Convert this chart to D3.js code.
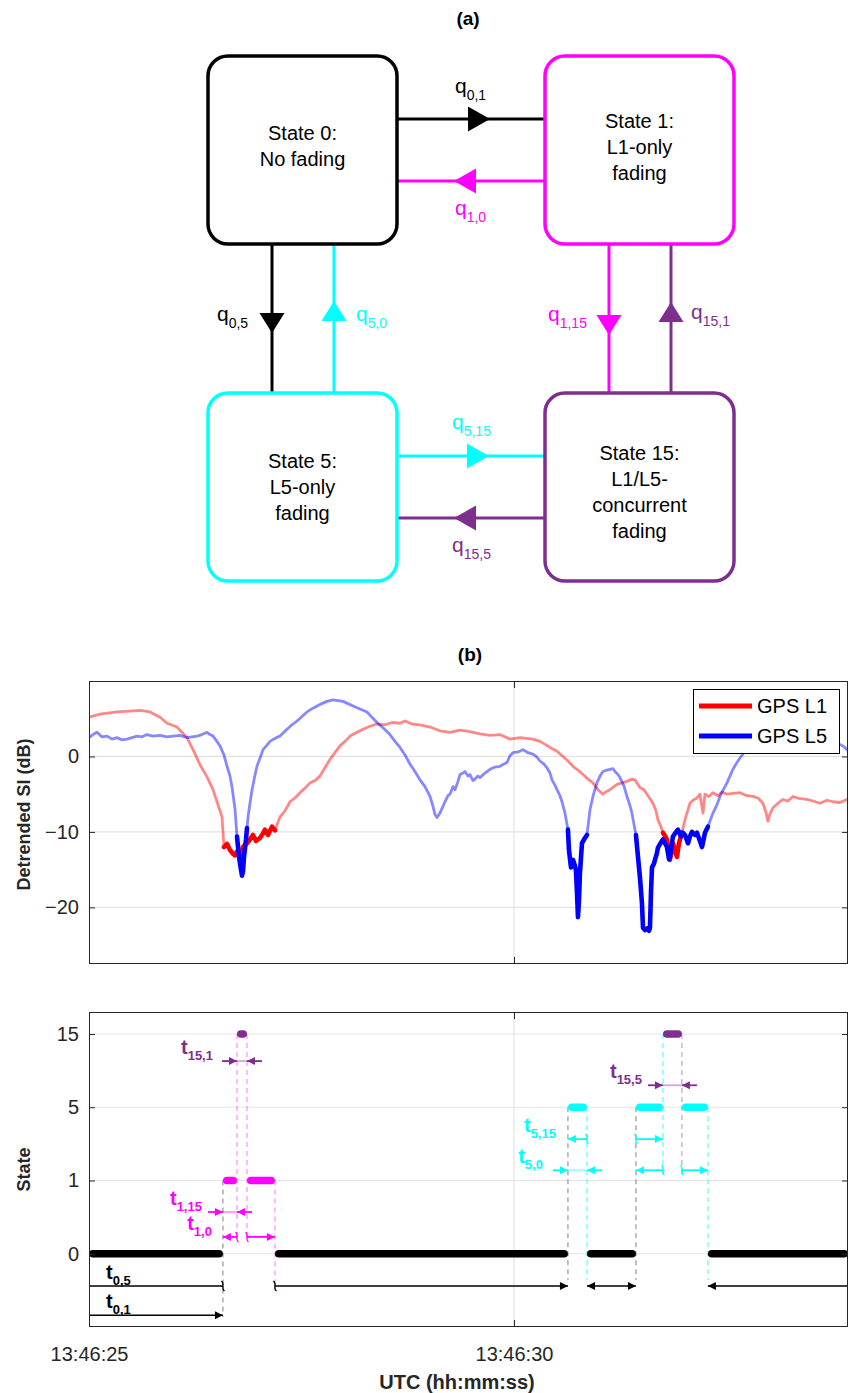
<!DOCTYPE html>
<html><head><meta charset="utf-8">
<script src="https://cdn.jsdelivr.net/npm/d3@7"></script>
<style>
html,body{margin:0;padding:0;background:#fff;}
svg{display:block;}
text{font-family:Arial,"Liberation Sans",Helvetica,sans-serif;}
</style></head><body>
<svg id="fig" width="849" height="1393"></svg>
<script>
// ================= DATA =================
// time in seconds after 13:46:25, detrended SI in dB
const l1Time = [0.000,0.129,0.329,0.482,0.600,0.718,0.835,0.918,1.035,1.153,1.224,1.306,1.388,1.459,1.518,1.565,1.588,1.624,1.659,1.694,1.718,1.741,1.776,1.812,1.859,1.894,1.929,1.965,2.012,2.047,2.071,2.106,2.153,2.188,2.247,2.306,2.365,2.424,2.482,2.541,2.600,2.659,2.718,2.776,2.835,2.894,2.953,3.012,3.071,3.153,3.224,3.306,3.388,3.482,3.565,3.659,3.718,3.800,3.894,4.012,4.129,4.247,4.365,4.482,4.600,4.718,4.835,4.953,5.071,5.224,5.306,5.424,5.506,5.576,5.635,5.694,5.753,5.812,5.871,5.929,5.988,6.047,6.094,6.129,6.212,6.271,6.329,6.388,6.424,6.482,6.529,6.565,6.600,6.635,6.671,6.694,6.729,6.753,6.776,6.800,6.835,6.859,6.871,6.894,6.918,6.941,6.976,7.012,7.035,7.071,7.106,7.153,7.188,7.224,7.247,7.294,7.341,7.400,7.447,7.506,7.576,7.659,7.741,7.812,7.871,7.929,7.965,7.988,8.012,8.047,8.106,8.165,8.224,8.282,8.365,8.447,8.518,8.600,8.682,8.753,8.835,8.918,8.941];
const l1Value = [5.2,5.6,5.9,6.0,6.1,5.9,5.2,4.4,3.9,2.5,0.9,-1.1,-2.7,-4.4,-6.4,-8.0,-12.0,-11.6,-12.4,-12.9,-13.1,-12.6,-13.3,-12.0,-11.5,-11.0,-10.4,-11.2,-10.8,-10.2,-9.7,-10.4,-9.3,-9.8,-8.0,-7.2,-6.0,-5.5,-4.8,-4.2,-3.5,-3.2,-2.6,-1.5,-0.4,0.5,1.4,2.0,2.7,3.2,3.6,4.0,4.3,4.2,4.5,4.4,4.7,4.3,4.2,3.9,3.4,3.2,3.5,3.3,3.0,2.8,2.9,2.3,2.5,2.3,2.0,1.2,0.7,0.0,-0.6,-1.3,-1.8,-2.4,-3.0,-3.5,-4.4,-5.0,-4.6,-4.4,-3.7,-3.5,-3.3,-3.0,-3.1,-4.1,-4.4,-5.0,-5.6,-6.2,-7.2,-8.4,-9.3,-10.1,-10.5,-11.0,-13.7,-12.4,-11.5,-12.5,-13.3,-11.5,-10.1,-8.4,-7.5,-6.2,-5.8,-5.5,-5.0,-7.5,-5.0,-5.3,-4.8,-5.2,-4.7,-5.0,-4.9,-4.8,-5.2,-5.3,-5.5,-6.2,-7.4,-8.6,-7.6,-6.8,-6.2,-5.7,-5.9,-5.3,-5.6,-5.7,-5.9,-6.2,-5.8,-6.0,-6.1,-5.7,-5.8];

const l5Time = [0.000,0.047,0.094,0.153,0.212,0.271,0.329,0.388,0.447,0.506,0.565,0.624,0.682,0.753,0.835,0.918,0.988,1.071,1.153,1.212,1.271,1.329,1.388,1.424,1.459,1.506,1.541,1.588,1.624,1.659,1.682,1.718,1.741,1.765,1.788,1.800,1.812,1.824,1.847,1.859,1.871,1.894,1.918,1.953,1.976,2.012,2.047,2.094,2.129,2.188,2.247,2.294,2.329,2.388,2.447,2.506,2.565,2.635,2.718,2.800,2.871,2.929,2.988,3.047,3.106,3.188,3.271,3.329,3.388,3.459,3.541,3.600,3.659,3.718,3.776,3.835,3.894,3.953,4.012,4.047,4.071,4.094,4.129,4.165,4.188,4.224,4.247,4.282,4.306,4.341,4.365,4.400,4.424,4.459,4.482,4.518,4.541,4.576,4.600,4.659,4.718,4.776,4.835,4.882,4.918,4.953,4.988,5.047,5.106,5.165,5.224,5.271,5.306,5.353,5.388,5.424,5.447,5.482,5.506,5.541,5.565,5.600,5.624,5.635,5.647,5.671,5.694,5.718,5.729,5.741,5.753,5.765,5.776,5.800,5.835,5.859,5.894,5.929,5.976,6.012,6.047,6.094,6.129,6.165,6.188,6.224,6.247,6.294,6.329,6.365,6.388,6.412,6.435,6.459,6.482,6.506,6.518,6.541,6.565,6.588,6.600,6.612,6.624,6.647,6.659,6.682,6.694,6.718,6.753,6.776,6.800,6.824,6.835,6.859,6.871,6.906,6.929,6.965,6.988,7.012,7.047,7.071,7.094,7.129,7.153,7.188,7.212,7.235,7.247,7.282,7.341,7.388,7.424,7.459,7.506,7.541,7.576,7.624,7.659,7.706,7.741,7.894,8.129,8.365,8.600,8.776,8.835,8.882,8.918,8.941];
const l5Value = [2.5,2.9,3.2,2.6,2.7,2.3,2.5,2.2,2.3,2.5,2.7,2.6,2.9,2.7,2.8,2.6,2.7,2.8,2.5,2.6,2.7,2.9,3.2,2.9,2.7,2.0,1.4,0.2,-1.3,-2.6,-4.0,-7.0,-10.6,-13.3,-15.0,-15.8,-15.2,-13.3,-11.0,-9.5,-8.0,-6.2,-4.4,-2.5,-1.3,-0.2,0.9,1.5,2.0,2.4,2.7,3.2,3.6,4.2,4.7,5.3,5.9,6.4,6.9,7.3,7.5,7.4,7.3,7.0,6.7,6.3,5.9,5.2,4.5,3.8,2.9,2.0,1.2,0.2,-1.0,-2.0,-3.1,-4.0,-5.3,-6.6,-7.7,-8.1,-7.5,-6.6,-6.0,-5.2,-5.0,-4.0,-4.4,-3.3,-2.4,-2.2,-2.0,-2.6,-2.4,-3.2,-3.0,-2.6,-2.8,-2.2,-1.7,-1.4,-1.3,-1.0,-0.8,0.1,0.5,0.6,0.9,0.5,0.3,-0.1,-0.6,-1.0,-1.5,-2.2,-3.1,-3.8,-4.4,-5.2,-6.0,-7.5,-9.0,-9.7,-12.4,-14.7,-13.7,-14.5,-15.1,-18.0,-21.3,-19.0,-15.5,-11.5,-10.8,-10.4,-7.1,-5.3,-3.5,-2.6,-2.0,-1.8,-1.7,-1.6,-2.0,-2.4,-2.8,-3.9,-5.3,-6.5,-7.5,-9.0,-10.4,-13.3,-16.0,-19.5,-22.7,-23.0,-22.8,-23.1,-22.7,-18.0,-14.7,-14.2,-13.7,-12.8,-12.1,-11.6,-11.0,-11.5,-12.0,-13.6,-13.3,-11.4,-10.6,-10.0,-9.7,-10.6,-10.1,-10.4,-11.5,-10.6,-10.0,-10.4,-10.1,-11.2,-12.0,-10.8,-10.1,-9.3,-7.5,-6.4,-5.3,-4.5,-3.5,-2.6,-1.7,-0.8,-0.2,0.5,0.9,2.5,3.5,3.0,2.2,1.6,1.6,1.3,0.9,0.8];

// state sequence
const stateStart = [0,1.576,1.741,1.859,2.188,5.635,5.859,6.435,6.753,6.976,7.282];
const stateEnd   = [1.576,1.741,1.859,2.188,5.635,5.859,6.435,6.753,6.976,7.282,8.93];
const stateValue = [0,1,15,1,0,5,0,5,15,5,0];
const stateLevels = [0,1,5,15];
const siTicks = [-20,-10,0];
const timeTicks = [0,5];
const timeTickLabels = ["13:46:25","13:46:30"];
const seriesNames = ["GPS L1","GPS L5"];

// ================= STYLE =================
const COL = {0:"#000000",1:"#FF00FF",5:"#00FFFF",15:"#7E2F8E"};
const RED="#FF0000", BLUE="#0000FF", AX="#262626", GRID="#e3e3e3";
const TICKFS = 20;

const svg = d3.select("#fig");

// ================= PANEL (a) =================
const ga = svg.append("g");
ga.append("text").attr("x",468).attr("y",25).attr("text-anchor","middle")
  .attr("font-size",19).attr("font-weight","bold").text("(a)");

const boxW=189, boxH=188, colX=[208,545], rowY=[56,393];
const boxes = [
  {s:0,c:0,r:0,lines:["State 0:","No fading"],base:140},
  {s:1,c:1,r:0,lines:["State 1:","L1-only","fading"],base:128},
  {s:5,c:0,r:1,lines:["State 5:","L5-only","fading"],base:468},
  {s:15,c:1,r:1,lines:["State 15:","L1/L5-","concurrent","fading"],base:460}
];
function tri(g,x,y,dir,len,half,color){
  let p;
  if(dir==="r") p=[[x,y],[x-len,y-half],[x-len,y+half]];
  if(dir==="l") p=[[x,y],[x+len,y-half],[x+len,y+half]];
  if(dir==="d") p=[[x,y],[x-half,y-len],[x+half,y-len]];
  if(dir==="u") p=[[x,y],[x-half,y+len],[x+half,y+len]];
  g.append("path").attr("d","M"+p.join("L")+"Z").attr("fill",color);
}
function qlabel(g,x,y,sub,color){
  const t=g.append("text").attr("x",x).attr("y",y).attr("fill",color);
  t.append("tspan").attr("font-size",21).text("q");
  t.append("tspan").attr("font-size",14).attr("dy",7).text(sub);
}
const edges = [
  {o:"h",pos:119,tip:490,dir:"r",col:COL[0],sub:"0,1",lx:455,ly:93},
  {o:"h",pos:181,tip:454,dir:"l",col:COL[1],sub:"1,0",lx:455,ly:215},
  {o:"h",pos:456,tip:489,dir:"r",col:COL[5],sub:"5,15",lx:452,ly:429},
  {o:"h",pos:518,tip:454,dir:"l",col:COL[15],sub:"15,5",lx:452,ly:552},
  {o:"v",pos:272,tip:333,dir:"d",col:COL[0],sub:"0,5",lx:217,ly:321},
  {o:"v",pos:334,tip:301,dir:"u",col:COL[5],sub:"5,0",lx:356,ly:321},
  {o:"v",pos:609,tip:335,dir:"d",col:COL[1],sub:"1,15",lx:548,ly:321},
  {o:"v",pos:671,tip:302,dir:"u",col:COL[15],sub:"15,1",lx:691,ly:319}
];
edges.forEach(e=>{
  if(e.o==="h"){
    ga.append("line").attr("x1",colX[0]+boxW).attr("x2",colX[1]).attr("y1",e.pos).attr("y2",e.pos)
      .attr("stroke",e.col).attr("stroke-width",3);
    tri(ga,e.tip,e.pos,e.dir,22,12.5,e.col);
  } else {
    ga.append("line").attr("x1",e.pos).attr("x2",e.pos).attr("y1",rowY[0]+boxH).attr("y2",rowY[1])
      .attr("stroke",e.col).attr("stroke-width",3);
    tri(ga,e.pos,e.tip,e.dir,20,12.5,e.col);
  }
  qlabel(ga,e.lx,e.ly,e.sub,e.col);
});
boxes.forEach(b=>{
  ga.append("rect").attr("x",colX[b.c]).attr("y",rowY[b.r]).attr("width",boxW).attr("height",boxH)
    .attr("rx",20).attr("ry",20).attr("fill","#fff").attr("stroke",COL[b.s]).attr("stroke-width",3.5);
  b.lines.forEach((l,i)=>{
    ga.append("text").attr("x",colX[b.c]+boxW/2).attr("y",b.base+26*i).attr("text-anchor","middle")
      .attr("font-size",20).attr("fill","#000").text(l);
  });
});

// ================= PANEL (b) =================
svg.append("text").attr("x",470).attr("y",661).attr("text-anchor","middle")
  .attr("font-size",19).attr("font-weight","bold").text("(b)");

const L=89, R=848;
const x = d3.scaleLinear().domain([0,8.93]).range([L,R]);
const T1=681, B1=964, T2=1012, B2=1327;
const ySI = d3.scaleLinear().domain([-27.5,10]).range([B1,T1]);
const yS = d3.scaleLinear().domain([-1,3.3]).range([B2,T2]);
const lvl = s => yS(stateLevels.indexOf(s));

const defs = svg.append("defs");
defs.append("clipPath").attr("id","c1").append("rect").attr("x",L).attr("y",T1).attr("width",R-L).attr("height",B1-T1);
defs.append("clipPath").attr("id","c2").append("rect").attr("x",L).attr("y",T2).attr("width",R-L+1).attr("height",B2-T2);

function frame(top,bot){
  const g=svg.append("g");
  g.append("rect").attr("x",L+0.5).attr("y",top+0.5).attr("width",R-L-1).attr("height",bot-top-1)
    .attr("fill","none").attr("stroke",AX).attr("stroke-width",1);
  return g;
}

// ---- top panel grid
const g1 = svg.append("g");
g1.selectAll(".hg").data(siTicks).join("line").attr("x1",L).attr("x2",R)
  .attr("y1",d=>ySI(d)).attr("y2",d=>ySI(d)).attr("stroke",GRID).attr("stroke-width",1.2);
g1.selectAll(".vg").data(timeTicks.slice(1)).join("line").attr("x1",d=>x(d)).attr("x2",d=>x(d))
  .attr("y1",T1).attr("y2",B1).attr("stroke",GRID).attr("stroke-width",1.2);

// ---- lines
const mkData=(t,v)=>t.map((d,i)=>({t:d,v:v[i]}));
const l1 = mkData(l1Time,l1Value), l5 = mkData(l5Time,l5Value);
const line = d3.line().x(d=>x(d.t)).y(d=>ySI(d.v)).curve(d3.curveLinear);
function intervals(set){
  const out=[];
  stateValue.forEach((s,i)=>{
    if(set.includes(s)){
      const last=out[out.length-1];
      if(last && Math.abs(last[1]-stateStart[i])<1e-6) last[1]=stateEnd[i];
      else out.push([stateStart[i],stateEnd[i]]);
    }
  });
  return out;
}
const lp = svg.append("g").attr("clip-path","url(#c1)");
lp.append("path").attr("d",line(l1)).attr("fill","none").attr("stroke",RED).attr("stroke-opacity",0.47)
  .attr("stroke-width",2.8).attr("stroke-linejoin","round");
lp.append("path").attr("d",line(l5)).attr("fill","none").attr("stroke",BLUE).attr("stroke-opacity",0.47)
  .attr("stroke-width",2.8).attr("stroke-linejoin","round");
intervals([1,15]).forEach(iv=>{
  const pts=l1.filter(d=>d.t>=iv[0]-0.001 && d.t<=iv[1]+0.001);
  lp.append("path").attr("d",line(pts)).attr("fill","none").attr("stroke",RED).attr("stroke-width",4.6)
    .attr("stroke-linejoin","round").attr("stroke-linecap","round");
});
intervals([5,15]).forEach(iv=>{
  const pts=l5.filter(d=>d.t>=iv[0]-0.001 && d.t<=iv[1]+0.001);
  lp.append("path").attr("d",line(pts)).attr("fill","none").attr("stroke",BLUE).attr("stroke-width",4.6)
    .attr("stroke-linejoin","round").attr("stroke-linecap","round");
});

// ---- top axes
frame(T1,B1);
const ay1 = svg.append("g").attr("transform",`translate(${L},0)`)
  .call(d3.axisLeft(ySI).tickValues(siTicks).tickSize(-6).tickPadding(10));
ay1.select(".domain").remove();
const ay1r = svg.append("g").attr("transform",`translate(${R},0)`)
  .call(d3.axisRight(ySI).tickValues(siTicks).tickSize(-6).tickFormat(""));
ay1r.select(".domain").remove();
const ax1 = svg.append("g").attr("transform",`translate(0,${B1})`)
  .call(d3.axisBottom(x).tickValues(timeTicks).tickSize(-7).tickFormat(""));
ax1.select(".domain").remove();
const ax1t = svg.append("g").attr("transform",`translate(0,${T1})`)
  .call(d3.axisTop(x).tickValues(timeTicks).tickSize(-7).tickFormat(""));
ax1t.select(".domain").remove();
svg.append("text").attr("transform",`translate(30,${(T1+B1)/2-8}) rotate(-90)`).attr("text-anchor","middle")
  .attr("font-size",18).attr("font-weight","bold").attr("fill",AX).text("Detrended SI (dB)");

// ---- legend
const lg = svg.append("g");
lg.append("rect").attr("x",693.5).attr("y",689.5).attr("width",146).attr("height",64)
  .attr("fill","#fff").attr("stroke","#000").attr("stroke-width",1);
[[RED,706],[BLUE,736]].forEach((c,i)=>{
  lg.append("line").attr("x1",699).attr("x2",752).attr("y1",c[1]).attr("y2",c[1]).attr("stroke",c[0]).attr("stroke-width",5);
  lg.append("text").attr("x",757).attr("y",c[1]+7).attr("font-size",20).attr("fill","#000").text(seriesNames[i]);
});

// ---- bottom panel grid
const g2 = svg.append("g");
g2.selectAll(".hg").data(stateLevels).join("line").attr("x1",L).attr("x2",R)
  .attr("y1",d=>lvl(d)).attr("y2",d=>lvl(d)).attr("stroke",GRID).attr("stroke-width",1.2);
g2.selectAll(".vg").data(timeTicks.slice(1)).join("line").attr("x1",d=>x(d)).attr("x2",d=>x(d))
  .attr("y1",T2).attr("y2",B2).attr("stroke",GRID).attr("stroke-width",1.2);

const bp = svg.append("g").attr("clip-path","url(#c2)");

// dashed transition guides
const guides = [
  {t:1.576,a:1,b:-0.865,c:"#808080",o:1},
  {t:1.741,a:3,b:0.19,c:COL[1],o:0.55},
  {t:1.859,a:3,b:0.19,c:COL[1],o:0.55},
  {t:2.188,a:1,b:-0.5,c:COL[1],o:0.55},
  {t:5.635,a:2,b:-0.36,c:"#808080",o:1},
  {t:5.859,a:2,b:-0.36,c:COL[5],o:0.8},
  {t:6.435,a:2,b:-0.36,c:"#808080",o:1},
  {t:6.753,a:3,b:1.07,c:COL[5],o:0.8},
  {t:6.976,a:3,b:1.07,c:COL[15],o:0.55},
  {t:7.282,a:2,b:-0.36,c:COL[5],o:0.8}
];
guides.forEach(d=>{
  bp.append("line").attr("x1",x(d.t)).attr("x2",x(d.t)).attr("y1",yS(d.a)).attr("y2",yS(d.b))
    .attr("stroke",d.c).attr("stroke-opacity",d.o).attr("stroke-width",1).attr("stroke-dasharray","5,4");
});

// state bars
const capR = 3.8;
stateValue.forEach((s,i)=>{
  const x0=x(stateStart[i])+capR, x1=Math.max(x(stateEnd[i])-capR, x0+0.5);
  bp.append("line").attr("x1",x0).attr("x2",x1).attr("y1",lvl(s)).attr("y2",lvl(s))
    .attr("stroke",COL[s]).attr("stroke-width",7.6).attr("stroke-linecap","round");
});

// annotation helpers
function head(g,xt,y,dir,c){ tri(g,xt,y,dir,8,4,c); }
function squig(g,xp,y,c){
  g.append("path").attr("d",`M${xp-1.5},${y-5} C${xp+2.5},${y-2} ${xp-2.5},${y+2} ${xp+1.5},${y+5}`)
    .attr("fill","none").attr("stroke",c).attr("stroke-width",1.3);
}
function seg(g,a,b,y,c,left,right,w){
  const xa=x(a), xb=x(b);
  g.append("line").attr("x1",xa).attr("x2",xb).attr("y1",y).attr("y2",y).attr("stroke",c).attr("stroke-width",w);
  if(left==="tip") head(g,xa,y,"l",c);
  if(left==="sq") squig(g,xa,y,c);
  if(right==="tip") head(g,xb,y,"r",c);
  if(right==="sq") squig(g,xb,y,c);
}
function inward(g,a,b,y,c,w){
  const xa=x(a), xb=x(b);
  g.append("line").attr("x1",xa-15).attr("x2",xa).attr("y1",y).attr("y2",y).attr("stroke",c).attr("stroke-width",w);
  g.append("line").attr("x1",xb).attr("x2",xb+15).attr("y1",y).attr("y2",y).attr("stroke",c).attr("stroke-width",w);
  g.append("line").attr("x1",xa).attr("x2",xb).attr("y1",y).attr("y2",y).attr("stroke",c).attr("stroke-opacity",0.4).attr("stroke-width",w);
  head(g,xa,y,"r",c); head(g,xb,y,"l",c);
}
function tlabel(g,xp,y,sub,c,anchor){
  const t=g.append("text").attr("x",xp).attr("y",y).attr("fill",c).attr("font-weight","bold")
    .attr("text-anchor",anchor||"end");
  t.append("tspan").attr("font-size",20).text("t");
  t.append("tspan").attr("font-size",13).attr("dy",6).text(sub);
}

const an = svg.append("g").attr("clip-path","url(#c2)");
const annRows = [
  {sub:"15,1",c:COL[15],u:2.63,lab:[1.741,-24],items:[{k:"in",a:1.741,b:1.859}]},
  {sub:"1,15",c:COL[1],u:0.57,lab:[1.576,-21],items:[{k:"in",a:1.576,b:1.741}]},
  {sub:"1,0",c:COL[1],u:0.23,lab:[1.576,-11],items:[{k:"s",a:1.576,b:1.741,l:"tip",r:"sq"},{k:"s",a:1.859,b:2.188,l:"sq",r:"tip"}]},
  {sub:"0,5",c:COL[0],u:-0.44,lab:[0,17,"start"],items:[{k:"s",a:0,b:1.576,l:"",r:"sq"},{k:"s",a:2.188,b:5.635,l:"sq",r:"tip"},{k:"s",a:5.859,b:6.435,l:"tip",r:"tip"},{k:"s",a:7.282,b:8.93,l:"tip",r:""}]},
  {sub:"0,1",c:COL[0],u:-0.84,lab:[0,17,"start"],items:[{k:"s",a:0,b:1.576,l:"",r:"tip"}]},
  {sub:"5,15",c:COL[5],u:1.565,lab:[5.635,-12],items:[{k:"s",a:5.635,b:5.859,l:"tip",r:"sq"},{k:"s",a:6.435,b:6.753,l:"sq",r:"tip"}]},
  {sub:"5,0",c:COL[5],u:1.14,lab:[5.635,-25],items:[{k:"in",a:5.635,b:5.859},{k:"s",a:6.435,b:6.753,l:"tip",r:"sq"},{k:"s",a:6.976,b:7.282,l:"sq",r:"tip"}]},
  {sub:"15,5",c:COL[15],u:2.30,lab:[6.753,-21],items:[{k:"in",a:6.753,b:6.976}]}
];
annRows.forEach(r=>{
  const y=yS(r.u);
  const w = r.c===COL[0]?1.6:1.8;
  r.items.forEach(it=>{
    if(it.k==="in") inward(an,it.a,it.b,y,r.c,w);
    else seg(an,it.a,it.b,y,r.c,it.l,it.r,w);
  });
  tlabel(svg,x(r.lab[0])+r.lab[1], y-7, r.sub, r.c, r.lab[2]);
});

// ---- bottom axes
frame(T2,B2);
const ay2 = svg.append("g").attr("transform",`translate(${L},0)`)
  .call(d3.axisLeft(yS).tickValues([0,1,2,3]).tickFormat(i=>stateLevels[i]).tickSize(-6).tickPadding(10));
ay2.select(".domain").remove();
const ay2r = svg.append("g").attr("transform",`translate(${R},0)`)
  .call(d3.axisRight(yS).tickValues([0,1,2,3]).tickSize(-6).tickFormat(""));
ay2r.select(".domain").remove();
const ax2 = svg.append("g").attr("transform",`translate(0,${B2})`)
  .call(d3.axisBottom(x).tickValues(timeTicks).tickSize(-7).tickPadding(20).tickFormat((d,i)=>timeTickLabels[i]));
ax2.select(".domain").remove();
const ax2t = svg.append("g").attr("transform",`translate(0,${T2})`)
  .call(d3.axisTop(x).tickValues(timeTicks).tickSize(-7).tickFormat(""));
ax2t.select(".domain").remove();
svg.append("text").attr("transform",`translate(30,${(T2+B2)/2}) rotate(-90)`).attr("text-anchor","middle")
  .attr("font-size",18).attr("font-weight","bold").attr("fill",AX).text("State");
svg.append("text").attr("x",457).attr("y",1389).attr("text-anchor","middle")
  .attr("font-size",20).attr("font-weight","bold").attr("fill",AX).text("UTC (hh:mm:ss)");

// axis text styling
svg.selectAll(".tick text").attr("font-size",TICKFS).attr("fill",AX).attr("font-family",'Arial,"Liberation Sans",Helvetica,sans-serif');
svg.selectAll(".tick line").attr("stroke",AX);
</script>
</body></html>
